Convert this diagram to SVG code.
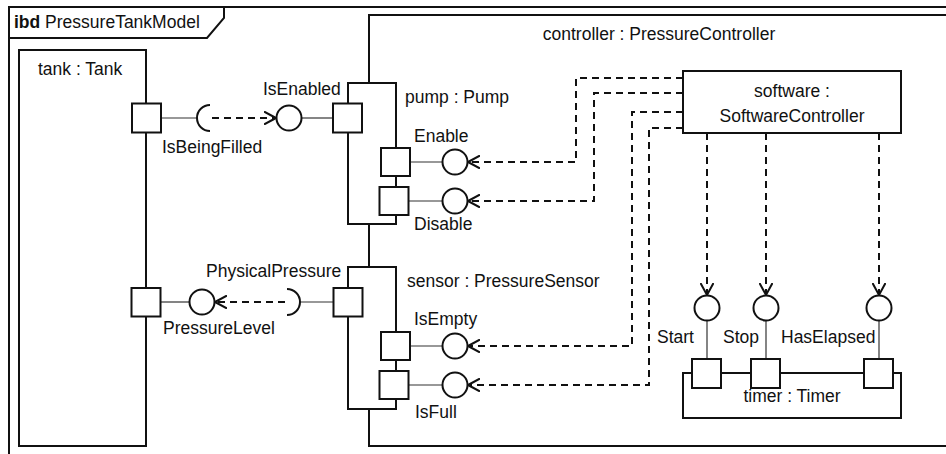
<svg xmlns="http://www.w3.org/2000/svg" width="946" height="454" viewBox="0 0 946 454">
<style>
text{font-family:"Liberation Sans",Arial,sans-serif;font-size:17.5px;fill:#111}
.box{fill:#fff;stroke:#111;stroke-width:2}
.port{fill:#fff;stroke:#111;stroke-width:2}
.iface{fill:#fff;stroke:#111;stroke-width:2}
.thin{fill:none;stroke:#333;stroke-width:1.2}
.dash{fill:none;stroke:#111;stroke-width:2;stroke-dasharray:7,5;marker-end:url(#arr)}
.mid{text-anchor:middle}
</style>
<defs>
<marker id="arr" viewBox="0 0 12 14" refX="12" refY="7" markerWidth="12" markerHeight="14" markerUnits="userSpaceOnUse" orient="auto">
<path d="M0,0.5 L12,7 L0,13.5" fill="none" stroke="#111" stroke-width="2"/>
</marker>
</defs>
<rect width="946" height="454" fill="#fff"/>
<g id="frame">
<rect x="9" y="7" width="960" height="470" fill="none" stroke="#111" stroke-width="2"/>
<path d="M9,38 H207 L224,18 V7" fill="none" stroke="#111" stroke-width="2"/>
<text x="14" y="28"><tspan font-weight="bold">ibd</tspan> PressureTankModel</text>
</g>
<g id="controller">
<rect class="box" x="369" y="15" width="600" height="431"/>
<text class="mid" x="659" y="40">controller : PressureController</text>
</g>
<g id="tank">
<rect class="box" x="19" y="50" width="127" height="396"/>
<text x="38" y="75">tank : Tank</text>
</g>
<g id="connectors">
<path class="thin" d="M161,118 H197"/>
<path class="thin" d="M301.5,118 H333"/>
<path class="thin" d="M160,302 H189.5"/>
<path class="thin" d="M300,302 H333"/>
<path class="thin" d="M409.5,162 H442.5"/>
<path class="thin" d="M408.5,201 H442.5"/>
<path class="thin" d="M409.5,346 H442.5"/>
<path class="thin" d="M408.5,385 H442.5"/>
<path class="thin" d="M707,320.5 V359"/>
<path class="thin" d="M766,320.5 V359"/>
<path class="thin" d="M879,320.5 V359"/>
<path class="dash" d="M212,118 H276"/>
<path class="dash" d="M285,302 H215"/>
<path class="dash" d="M683,78 H576 V162 H468"/>
<path class="dash" d="M683,93 H594 V201 H468"/>
<path class="dash" d="M683,112 H632 V346 H468"/>
<path class="dash" d="M683,128 H649 V385 H468"/>
<path class="dash" d="M707,133 V295"/>
<path class="dash" d="M766,133 V295"/>
<path class="dash" d="M879,133 V295"/>
</g>
<g id="tank-ports">
<rect class="port" x="132" y="103.5" width="29" height="29"/>
<rect class="port" x="131.5" y="288" width="29" height="28.5"/>
<path class="iface" d="M210,105 A13,13 0 0 0 210,131" style="fill:none"/>
<circle class="iface" cx="202" cy="302" r="12.5"/>
<text x="162" y="153">IsBeingFilled</text>
<text x="163" y="334">PressureLevel</text>
</g>
<g id="pump">
<rect class="box" x="348" y="83" width="48" height="141"/>
<rect class="port" x="333" y="103.5" width="29" height="29"/>
<rect class="port" x="381" y="148" width="29" height="28"/>
<rect class="port" x="379.5" y="187" width="29" height="28"/>
<circle class="iface" cx="289" cy="118" r="12.5"/>
<circle class="iface" cx="455" cy="162" r="12.5"/>
<circle class="iface" cx="455" cy="201" r="12.5"/>
<text x="405" y="103">pump : Pump</text>
<text x="263" y="95">IsEnabled</text>
<text x="414" y="142">Enable</text>
<text x="414" y="230">Disable</text>
</g>
<g id="sensor">
<rect class="box" x="348" y="267" width="48" height="142"/>
<rect class="port" x="333.5" y="288" width="29" height="28.5"/>
<rect class="port" x="381" y="332" width="29" height="28"/>
<rect class="port" x="379.5" y="371" width="29" height="28"/>
<path class="iface" d="M287,289 A13,13 0 0 1 287,315" style="fill:none"/>
<circle class="iface" cx="455" cy="346" r="12.5"/>
<circle class="iface" cx="455" cy="385" r="12.5"/>
<text x="407" y="287">sensor : PressureSensor</text>
<text x="206" y="277">PhysicalPressure</text>
<text x="414" y="325">IsEmpty</text>
<text x="415" y="418">IsFull</text>
</g>
<g id="software">
<rect class="box" x="683" y="71" width="218" height="62"/>
<text class="mid" x="792" y="97">software :</text>
<text class="mid" x="792" y="122">SoftwareController</text>
</g>
<g id="timer">
<rect class="box" x="683" y="373" width="218" height="45"/>
<rect class="port" x="692" y="359" width="29" height="29"/>
<rect class="port" x="751" y="359" width="29" height="29"/>
<rect class="port" x="864" y="359" width="29" height="29"/>
<circle class="iface" cx="707" cy="308" r="12.5"/>
<circle class="iface" cx="766" cy="308" r="12.5"/>
<circle class="iface" cx="879" cy="308" r="12.5"/>
<text class="mid" x="792" y="402">timer : Timer</text>
<text x="657" y="343">Start</text>
<text x="723" y="343">Stop</text>
<text x="781" y="343">HasElapsed</text>
</g>
</svg>
